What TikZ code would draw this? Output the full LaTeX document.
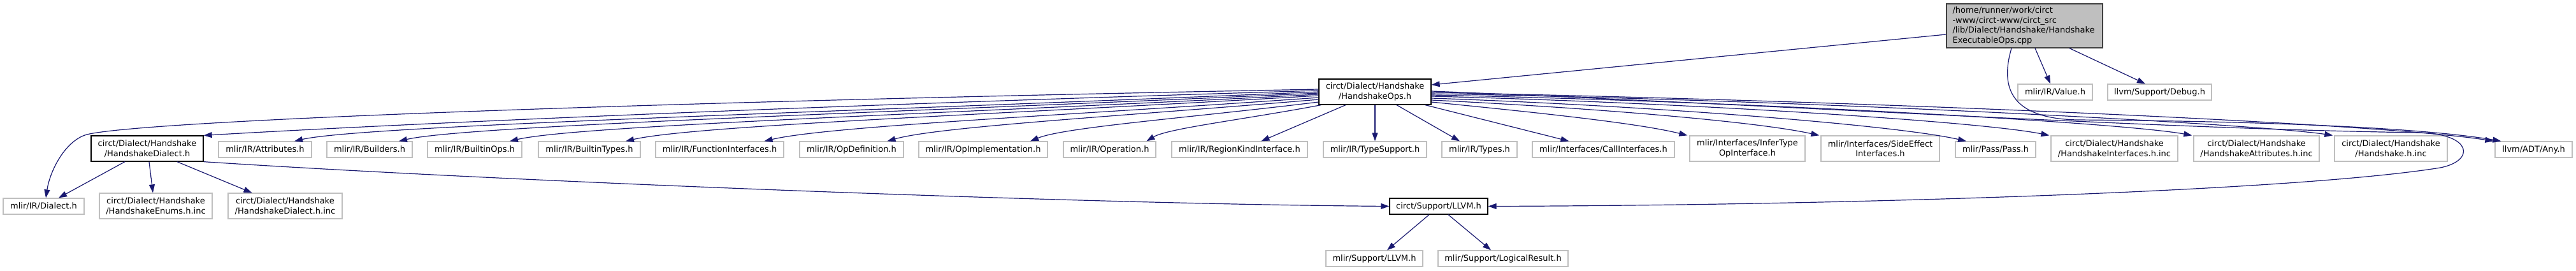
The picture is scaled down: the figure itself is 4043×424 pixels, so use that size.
\documentclass[tikz,border=0pt]{standalone}
\usepackage{fontspec}
\setmainfont{DejaVu Sans}
\usetikzlibrary{arrows.meta}
\definecolor{edgec}{HTML}{191970}
\definecolor{gborder}{HTML}{BFBFBF}
\definecolor{rootfill}{HTML}{BFBFBF}
\definecolor{rootborder}{HTML}{404040}
\tikzset{
  base/.style={rectangle, inner sep=0pt, align=center, font=\fontsize{13}{15.5}\selectfont, line width=1.3pt},
  gnode/.style={base, draw=gborder, fill=white},
  dnode/.style={base, draw=black, fill=white},
  rootnode/.style={base, draw=rootborder, fill=rootfill},
  one/.style={minimum height=25pt},
  two/.style={minimum height=40pt},
  dep/.style={draw=edgec, line width=1.2pt, -{Triangle[length=13pt,width=9pt]}},
}
\begin{document}
\begin{tikzpicture}[x=1pt,y=-1pt]
\useasboundingbox (0,0) rectangle (4043,424);
% nodes
\node[rootnode, minimum width=245pt, minimum height=69pt, text width=226pt, align=left] (root) at (3177.5,40.5)
  {/home/runner/work/circt\\-www/circt-www/circt\_src\\/lib/Dialect/Handshake/Handshake\par\centering ExecutableOps.cpp};
\node[dnode, two, minimum width=176pt] (ops) at (2158,144) {circt/Dialect/Handshake\\/HandshakeOps.h};
\node[gnode, one, minimum width=117pt] (value) at (3225.5,144.5) {mlir/IR/Value.h};
\node[gnode, one, minimum width=163pt] (debug) at (3389.5,144.5) {llvm/Support/Debug.h};

\node[dnode,two,minimum width=176pt] (hsdialect) at (231,233) {circt/Dialect/Handshake\\/HandshakeDialect.h};
\node[gnode,one,minimum width=146pt] (attr) at (416,234.5) {mlir/IR/Attributes.h};
\node[gnode,one,minimum width=134pt] (builders) at (580,234.5) {mlir/IR/Builders.h};
\node[gnode,one,minimum width=148pt] (builtinops) at (745,234.5) {mlir/IR/BuiltinOps.h};
\node[gnode,one,minimum width=160pt] (builtintypes) at (925,234.5) {mlir/IR/BuiltinTypes.h};
\node[gnode,one,minimum width=201pt] (funcif) at (1129.5,234.5) {mlir/IR/FunctionInterfaces.h};
\node[gnode,one,minimum width=163pt] (opdef) at (1336.5,234.5) {mlir/IR/OpDefinition.h};
\node[gnode,one,minimum width=202pt] (opimpl) at (1543,234.5) {mlir/IR/OpImplementation.h};
\node[gnode,one,minimum width=145pt] (operation) at (1741.5,234.5) {mlir/IR/Operation.h};
\node[gnode,one,minimum width=213pt] (regionkind) at (1945.5,234.5) {mlir/IR/RegionKindInterface.h};
\node[gnode,one,minimum width=162pt] (typesupport) at (2158,234.5) {mlir/IR/TypeSupport.h};
\node[gnode,one,minimum width=118pt] (types) at (2322,234.5) {mlir/IR/Types.h};
\node[gnode,one,minimum width=223pt] (callif) at (2516.5,234.5) {mlir/Interfaces/CallInterfaces.h};
\node[gnode,two,minimum width=181pt] (infertype) at (2742.5,233) {mlir/Interfaces/InferType\\OpInterface.h};
\node[gnode,two,minimum width=186pt] (sideeffect) at (2951,233) {mlir/Interfaces/SideEffect\\Interfaces.h};
\node[gnode,one,minimum width=126pt] (pass) at (3132,234.5) {mlir/Pass/Pass.h};
\node[gnode,two,minimum width=199pt] (hsif) at (3318.5,233) {circt/Dialect/Handshake\\/HandshakeInterfaces.h.inc};
\node[gnode,two,minimum width=197pt] (hsattr) at (3541.5,233) {circt/Dialect/Handshake\\/HandshakeAttributes.h.inc};
\node[gnode,two,minimum width=177pt] (hsinc) at (3752.5,233) {circt/Dialect/Handshake\\/Handshake.h.inc};
\node[gnode,one,minimum width=121pt] (any) at (3976.5,234.5) {llvm/ADT/Any.h};

\node[gnode,one,minimum width=127pt] (dialecth) at (68.5,323.5) {mlir/IR/Dialect.h};
\node[gnode,two,minimum width=177pt] (hsenums) at (244.5,323) {circt/Dialect/Handshake\\/HandshakeEnums.h.inc};
\node[gnode,two,minimum width=179pt] (hsdialectinc) at (447.5,323) {circt/Dialect/Handshake\\/HandshakeDialect.h.inc};
\node[dnode,one,minimum width=154pt] (llvm) at (2258,323.5) {circt/Support/LLVM.h};
\node[gnode,one,minimum width=152pt] (mlirllvm) at (2157,405.5) {mlir/Support/LLVM.h};
\node[gnode,one,minimum width=204pt] (logical) at (2359,405.5) {mlir/Support/LogicalResult.h};

\coordinate (w1) at (3260,188);
\coordinate (w2) at (3800,208);
\coordinate (w3) at (3830,263);
\coordinate (w4) at (133,212);

% root edges
\draw[dep] ([yshift=-13.5pt]root.west) -- ([yshift=11pt]ops.east);
\draw[dep] ([xshift=16.5pt]root.south) -- ([xshift=-7.5pt]value.north);
\draw[dep] ([xshift=70.5pt]root.south) -- ([xshift=-22.5pt]debug.north);
\draw[dep] ([xshift=-20.5pt]root.south) .. controls (3135,150) and (3170,186) .. (w1)
  .. controls (3550,190) and (3800,200) .. ([xshift=10pt]any.north west);

% ops edges, left side
\draw[dep] ([yshift=4pt]ops.west) .. controls (900,162) and (190,192) .. (w4)
  .. controls (100,224) and (78,270) .. ([xshift=3.5pt]dialecth.north);
\draw[dep] ([yshift=2pt]ops.west) .. controls (1200,168) and (600,196) .. (hsdialect.north east);
\draw[dep] (ops.west) .. controls +(-724,31) and +(110,-25) .. ([xshift=46pt]attr.north);
\draw[dep] ([yshift=-2pt]ops.west) .. controls +(-650,30) and +(110,-25) .. ([xshift=46pt]builders.north);
\draw[dep] ([yshift=-4pt]ops.west) .. controls +(-572,30) and +(110,-25) .. ([xshift=55pt]builtinops.north);
\draw[dep] ([yshift=-6pt]ops.west) .. controls +(-490,29) and +(110,-25) .. ([xshift=57pt]builtintypes.north);
\draw[dep] ([yshift=-9pt]ops.west) .. controls +(-392,28) and +(104,-24) .. ([xshift=70pt]funcif.north);
\draw[dep] ([yshift=-12pt]ops.west) .. controls +(-305,26) and +(81,-23) .. ([xshift=56pt]opdef.north);
\draw[dep] ([yshift=-16pt]ops.west) .. controls +(-204,25) and +(54,-22) .. ([xshift=74pt]opimpl.north);
\draw[dep] ([xshift=4pt]ops.south west) .. controls +(-122,23) and +(33,-20) .. ([xshift=58pt]operation.north);
\draw[dep] ([xshift=-46pt]ops.south) -- ([xshift=34pt]regionkind.north);
\draw[dep] (ops.south) -- (typesupport.north);
\draw[dep] ([xshift=34pt]ops.south) -- ([xshift=-31pt]types.north);
\draw[dep] ([xshift=79pt]ops.south) -- ([xshift=-54pt]callif.north);
% ops edges, right side
\draw[dep] ([yshift=-16pt]ops.east) .. controls +(150,15) and +(-80,-20) .. ([xshift=-3pt]infertype.north west);
\draw[dep] ([yshift=-13pt]ops.east) .. controls +(250,12) and +(-100,-22) .. ([xshift=-2pt]sideeffect.north west);
\draw[dep] ([yshift=-10pt]ops.east) .. controls +(350,12) and +(-110,-25) .. ([xshift=-46pt]pass.north);
\draw[dep] ([yshift=-7pt]ops.east) .. controls +(400,10) and +(-110,-22) .. ([xshift=-2pt]hsif.north west);
\draw[dep] ([yshift=-5pt]ops.east) .. controls +(500,10) and +(-110,-20) .. ([xshift=-2pt]hsattr.north west);
\draw[dep] ([yshift=-3pt]ops.east) .. controls +(600,10) and +(-120,-18) .. ([xshift=-2pt]hsinc.north west);
\draw[dep] ([yshift=-1pt]ops.east) .. controls (3000,160) and (3750,195) .. ([xshift=-2pt]any.north west);
\draw[dep] ([yshift=1pt]ops.east) .. controls (2800,165) and (3400,203) .. (w2)
  .. controls (3880,211) and (3885,252) .. (w3)
  .. controls (3600,300) and (2900,322) .. (llvm.east);

% hsdialect edges
\draw[dep] ([xshift=-35pt]hsdialect.south) -- ([xshift=23.5pt]dialecth.north);
\draw[dep] ([xshift=3pt]hsdialect.south) -- ([xshift=-4.5pt]hsenums.north);
\draw[dep] ([xshift=47pt]hsdialect.south) -- ([xshift=-52pt]hsdialectinc.north);
\draw[dep] (hsdialect.south east) .. controls (800,285) and (1700,320) .. (llvm.west);

% llvm edges
\draw[dep] ([xshift=-15pt]llvm.south) -- ([xshift=20pt]mlirllvm.north);
\draw[dep] ([xshift=15pt]llvm.south) -- ([xshift=-19pt]logical.north);
\end{tikzpicture}
\end{document}
